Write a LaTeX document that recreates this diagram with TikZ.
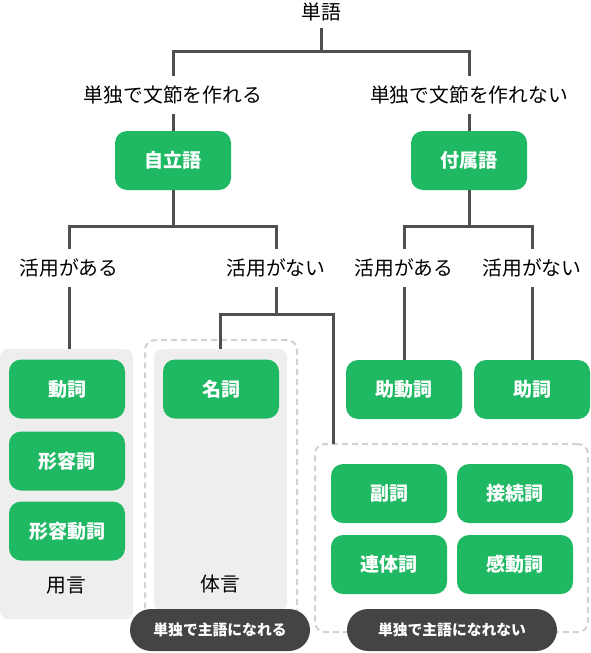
\documentclass[tikz,border=0pt]{standalone}
\usepackage{fontspec}
\setmainfont{Noto Sans CJK JP}
\definecolor{leafgreen}{HTML}{1FB863}
\definecolor{linegray}{HTML}{4F4F4F}
\definecolor{panelgray}{HTML}{EEEEEE}
\definecolor{frameline}{HTML}{D2D2D2}
\definecolor{pilldark}{HTML}{444444}
\begin{document}
\begin{tikzpicture}[x=1pt,y=-1pt,
    conn/.style={draw=linegray, line width=3pt},
    cond/.style={font=\fontsize{19.8}{19.8}\selectfont, minimum height=38pt, inner sep=0pt},
    wordbox/.style={fill=leafgreen, text=white, rounded corners=12pt,
      minimum width=116pt, minimum height=59pt, inner sep=0pt,
      font=\bfseries\fontsize{19}{19}\selectfont},
    panel/.style={fill=panelgray, rounded corners=8pt, inner sep=0pt},
    dashframe/.style={draw=frameline, line width=2pt, dash pattern=on 6pt off 4pt,
      rounded corners=10pt, inner sep=0pt},
    pill/.style={fill=pilldark, text=white, rounded corners=21pt, minimum height=42pt,
      inner sep=0pt, font=\bfseries\fontsize{14.8}{14.8}\selectfont},
    grouplabel/.style={font=\fontsize{19.8}{19.8}\selectfont}]
    \useasboundingbox (0,0) rectangle (590,653);

    \node[panel, minimum width=133pt, minimum height=270pt] (yougenPanel) at (66.5,484) {};
    \node[panel, minimum width=133pt, minimum height=262pt] (taigenPanel) at (220.5,480) {};
    \node[dashframe, minimum width=152pt, minimum height=292pt] (taigenFrame) at (221,486) {};
    \node[dashframe, minimum width=273pt, minimum height=188pt] (fuzokuFrame) at (451.5,538) {};

    \node[cond, minimum height=32pt] (tango) at (321,12) {単語};
    \node[cond] (canBunsetsu) at (173,95) {単独で文節を作れる};
    \node[cond] (cannotBunsetsu) at (469,95) {単独で文節を作れない};
    \node[wordbox] (jiritsugo) at (173,160.5) {自立語};
    \node[wordbox] (fuzokugo) at (469,160.5) {付属語};

    \node[cond] (jiritsuKatsuyou) at (69,268) {活用がある};
    \node[cond] (jiritsuNoKatsuyou) at (276,268) {活用がない};
    \node[cond] (fuzokuKatsuyou) at (404,268) {活用がある};
    \node[cond] (fuzokuNoKatsuyou) at (532,268) {活用がない};

    \node[wordbox] (doushi) at (67,389) {動詞};
    \node[wordbox] (keiyoushi) at (67,461) {形容詞};
    \node[wordbox] (keiyoudoushi) at (67,531) {形容動詞};
    \node[grouplabel] (yougen) at (66,586) {用言};

    \node[wordbox] (meishi) at (221,389) {名詞};
    \node[grouplabel] (taigen) at (220,584) {体言};

    \node[wordbox] (jodoushi) at (404,389.5) {助動詞};
    \node[wordbox] (joshi) at (532,389.5) {助詞};

    \node[wordbox] (fukushi) at (389,493.5) {副詞};
    \node[wordbox] (setsuzokushi) at (515,493.5) {接続詞};
    \node[wordbox] (rentaishi) at (389,564.5) {連体詞};
    \node[wordbox] (kandoushi) at (515,564.5) {感動詞};

    \node[pill, minimum width=180pt] (shugoOk) at (220,630) {単独で主語になれる};
    \node[pill, minimum width=210pt] (shugoNg) at (452,630) {単独で主語になれない};

    \coordinate (split1) at (321,51);
    \coordinate (split2) at (173,226);
    \coordinate (split3) at (276,314);
    \coordinate (split4) at (469,226);
    \coordinate (fuzokuTop) at (333,444);

    \draw[conn] (tango.south) -- (split1);
    \draw[conn] (canBunsetsu.north) |- (split1) -| (cannotBunsetsu.north);
    \draw[conn] (canBunsetsu.south) -- (jiritsugo.north);
    \draw[conn] (cannotBunsetsu.south) -- (fuzokugo.north);

    \draw[conn] (jiritsugo.south) -- (split2);
    \draw[conn] (jiritsuKatsuyou.north) |- (split2) -| (jiritsuNoKatsuyou.north);
    \draw[conn] (jiritsuKatsuyou.south) -- (jiritsuKatsuyou.south |- yougenPanel.north);
    \draw[conn] (jiritsuNoKatsuyou.south) -- (split3);
    \draw[conn] (taigenPanel.north) |- (split3) -| (fuzokuTop);

    \draw[conn] (fuzokugo.south) -- (split4);
    \draw[conn] (fuzokuKatsuyou.north) |- (split4) -| (fuzokuNoKatsuyou.north);
    \draw[conn] (fuzokuKatsuyou.south) -- (jodoushi.north);
    \draw[conn] (fuzokuNoKatsuyou.south) -- (joshi.north);
  \end{tikzpicture}
\end{document}
